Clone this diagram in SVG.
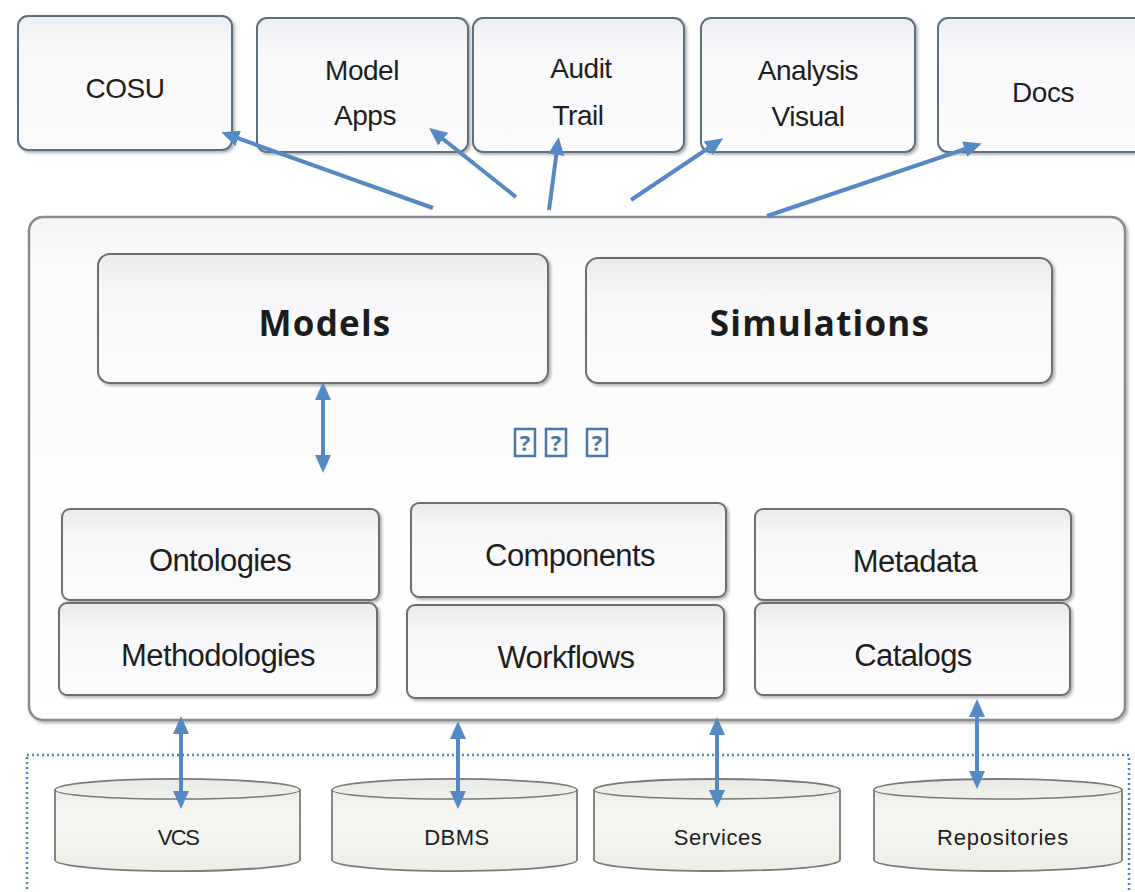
<svg xmlns="http://www.w3.org/2000/svg" width="1135" height="892" viewBox="0 0 1135 892">
  <defs>
    <style>
      .top { fill: url(#gTop); stroke: #5d6f7f; stroke-width: 2; filter: url(#sh); }
      .inner { fill: url(#gIn); stroke: #6e6e6e; stroke-width: 2; filter: url(#sh); }
      .cyl { fill: url(#gCyl); stroke: #7a7a7a; stroke-width: 1.8; }
      .cyltop { fill: none; stroke: #7a7a7a; stroke-width: 1.5; }
      .lbl { font-family: "Liberation Sans", Arial, sans-serif; fill: #1e1e1e; text-anchor: middle; }
      .t28 { font-size: 28px; letter-spacing: -0.5px; }
      .t31 { font-size: 31px; letter-spacing: -0.6px; }
      .t22 { font-size: 22px; letter-spacing: -0.5px; }
      .big { font-family: "Open Sans", "Noto Sans", sans-serif; font-weight: bold; font-size: 35px; letter-spacing: 1.2px; fill: #1c1c1c; text-anchor: middle; }
      .arr { stroke: #5589c4; stroke-width: 4; fill: none; }
      .one { marker-end: url(#ah); }
      .two { marker-end: url(#ah); marker-start: url(#ah); }
      .tofu { fill: none; stroke: #4a78aa; stroke-width: 2.5; }
      .q { font-family: "Open Sans", "Liberation Sans", sans-serif; font-size: 22px; font-weight: bold; fill: #4a78aa; text-anchor: middle; }
    </style>
    <linearGradient id="gTop" x1="0" y1="0" x2="0" y2="1">
      <stop offset="0" stop-color="#eceef1"/>
      <stop offset="0.25" stop-color="#f8f8fa"/>
      <stop offset="1" stop-color="#fbfbfc"/>
    </linearGradient>
    <linearGradient id="gIn" x1="0" y1="0" x2="0" y2="1">
      <stop offset="0" stop-color="#e9eaec"/>
      <stop offset="0.3" stop-color="#f7f7f9"/>
      <stop offset="1" stop-color="#fcfcfd"/>
    </linearGradient>
    <linearGradient id="gMain" x1="0" y1="0" x2="0" y2="1">
      <stop offset="0" stop-color="#f3f4f6"/>
      <stop offset="0.1" stop-color="#fbfbfc"/>
      <stop offset="1" stop-color="#ffffff"/>
    </linearGradient>
    <linearGradient id="gCyl" x1="0" y1="0" x2="0" y2="1">
      <stop offset="0" stop-color="#e8eae4"/>
      <stop offset="0.4" stop-color="#f6f7f3"/>
      <stop offset="1" stop-color="#eceee6"/>
    </linearGradient>
    <filter id="sh" x="-5%" y="-5%" width="115%" height="120%">
      <feDropShadow dx="2" dy="2" stdDeviation="1.5" flood-color="#000" flood-opacity="0.3"/>
    </filter>
    <marker id="ah" markerUnits="userSpaceOnUse" markerWidth="18" markerHeight="16" viewBox="0 0 18 16" refX="13" refY="8" orient="auto-start-reverse">
      <path d="M0,0 L18,8 L0,16 z" fill="#5589c4"/>
    </marker>
  </defs>

  <rect width="1135" height="892" fill="#ffffff"/>

  <!-- Top nodes -->
  <g id="cosu">
    <rect class="top" x="18" y="16" width="214" height="134" rx="10"/>
    <text class="lbl t28" x="125" y="98">COSU</text>
  </g>
  <g id="model-apps">
    <rect class="top" x="257" y="18" width="211" height="134" rx="10"/>
    <text class="lbl t28" x="362" y="80">Model</text>
    <text class="lbl t28" x="365" y="125">Apps</text>
  </g>
  <g id="audit-trail">
    <rect class="top" x="473" y="18" width="211" height="134" rx="10"/>
    <text class="lbl t28" x="581" y="78">Audit</text>
    <text class="lbl t28" x="578" y="125">Trail</text>
  </g>
  <g id="analysis-visual">
    <rect class="top" x="701" y="18" width="214" height="134" rx="10"/>
    <text class="lbl t28" x="808" y="80">Analysis</text>
    <text class="lbl t28" x="808" y="126">Visual</text>
  </g>
  <g id="docs">
    <rect class="top" x="938" y="18" width="210" height="134" rx="10"/>
    <text class="lbl t28" x="1043" y="102">Docs</text>
  </g>

  <!-- Main container -->
  <g id="platform">
    <rect x="29" y="217" width="1096" height="503" rx="14" fill="url(#gMain)" stroke="#8a8a8a" stroke-width="2.5" filter="url(#sh)"/>
  </g>

  <g id="models">
    <rect class="inner" x="98" y="254" width="450" height="129" rx="12"/>
    <text class="big" x="325" y="336">Models</text>
  </g>
  <g id="simulations">
    <rect class="inner" x="586" y="258" width="466" height="125" rx="12"/>
    <text class="big" x="820" y="336">Simulations</text>
  </g>

  <g id="placeholder">
    <rect class="tofu" x="515" y="429" width="20" height="27"/>
    <text class="q" x="525" y="451">?</text>
    <rect class="tofu" x="546" y="429" width="20" height="27"/>
    <text class="q" x="556" y="451">?</text>
    <rect class="tofu" x="587" y="429" width="20" height="27"/>
    <text class="q" x="597" y="451">?</text>
  </g>

  <g id="ontologies">
    <rect class="inner" x="62" y="509" width="317" height="91" rx="8"/>
    <text class="lbl t31" x="220" y="571">Ontologies</text>
  </g>
  <g id="methodologies">
    <rect class="inner" x="59" y="603" width="318" height="92" rx="8"/>
    <text class="lbl t31" x="218" y="666">Methodologies</text>
  </g>
  <g id="components">
    <rect class="inner" x="411" y="503" width="315" height="94" rx="8"/>
    <text class="lbl t31" x="570" y="566">Components</text>
  </g>
  <g id="workflows">
    <rect class="inner" x="407" y="605" width="317" height="93" rx="8"/>
    <text class="lbl t31" x="566" y="668">Workflows</text>
  </g>
  <g id="metadata">
    <rect class="inner" x="755" y="509" width="316" height="91" rx="8"/>
    <text class="lbl t31" x="915" y="572">Metadata</text>
  </g>
  <g id="catalogs">
    <rect class="inner" x="755" y="603" width="315" height="92" rx="8"/>
    <text class="lbl t31" x="913" y="666">Catalogs</text>
  </g>

  <!-- Storage layer -->
  <g id="storage-layer">
    <rect x="27" y="755" width="1102" height="150" fill="none" stroke="#4a86c8" stroke-width="2.5" stroke-dasharray="2 3"/>
  </g>
  <g id="vcs">
    <path class="cyl" d="M55,790 A122,11 0 0 1 300,790 L300,860 A122,11 0 0 1 55,860 Z"/>
    <path class="cyltop" d="M55,790 A122,9 0 0 0 300,790"/>
    <text class="lbl t22" x="178" y="845" style="letter-spacing:-1.5px">VCS</text>
  </g>
  <g id="dbms">
    <path class="cyl" d="M332,790 A122,11 0 0 1 577,790 L577,860 A122,11 0 0 1 332,860 Z"/>
    <path class="cyltop" d="M332,790 A122,9 0 0 0 577,790"/>
    <text class="lbl t22" x="457" y="845" style="letter-spacing:0.5px">DBMS</text>
  </g>
  <g id="services">
    <path class="cyl" d="M594,790 A123,11 0 0 1 840,790 L840,860 A123,11 0 0 1 594,860 Z"/>
    <path class="cyltop" d="M594,790 A123,9 0 0 0 840,790"/>
    <text class="lbl t22" x="718" y="845" style="letter-spacing:0.5px">Services</text>
  </g>
  <g id="repositories">
    <path class="cyl" d="M874,790 A124,11 0 0 1 1122,790 L1122,860 A124,11 0 0 1 874,860 Z"/>
    <path class="cyltop" d="M874,790 A124,9 0 0 0 1122,790"/>
    <text class="lbl t22" x="1003" y="845" style="letter-spacing:0.8px">Repositories</text>
  </g>

  <!-- Connectors -->
  <g id="connectors">
    <line class="arr one" x1="433" y1="208" x2="226" y2="134"/>
    <line class="arr one" x1="516" y1="197" x2="433" y2="131"/>
    <line class="arr one" x1="549" y1="210" x2="558" y2="142"/>
    <line class="arr one" x1="631" y1="200" x2="719" y2="141"/>
    <line class="arr one" x1="767" y1="216" x2="977" y2="145"/>
    <line class="arr two" x1="323" y1="387" x2="323" y2="468"/>
    <line class="arr two" x1="181" y1="721" x2="181" y2="804"/>
    <line class="arr two" x1="458" y1="726" x2="458" y2="804"/>
    <line class="arr two" x1="717" y1="722" x2="717" y2="803"/>
    <line class="arr two" x1="977" y1="704" x2="977" y2="784"/>
  </g>
</svg>
